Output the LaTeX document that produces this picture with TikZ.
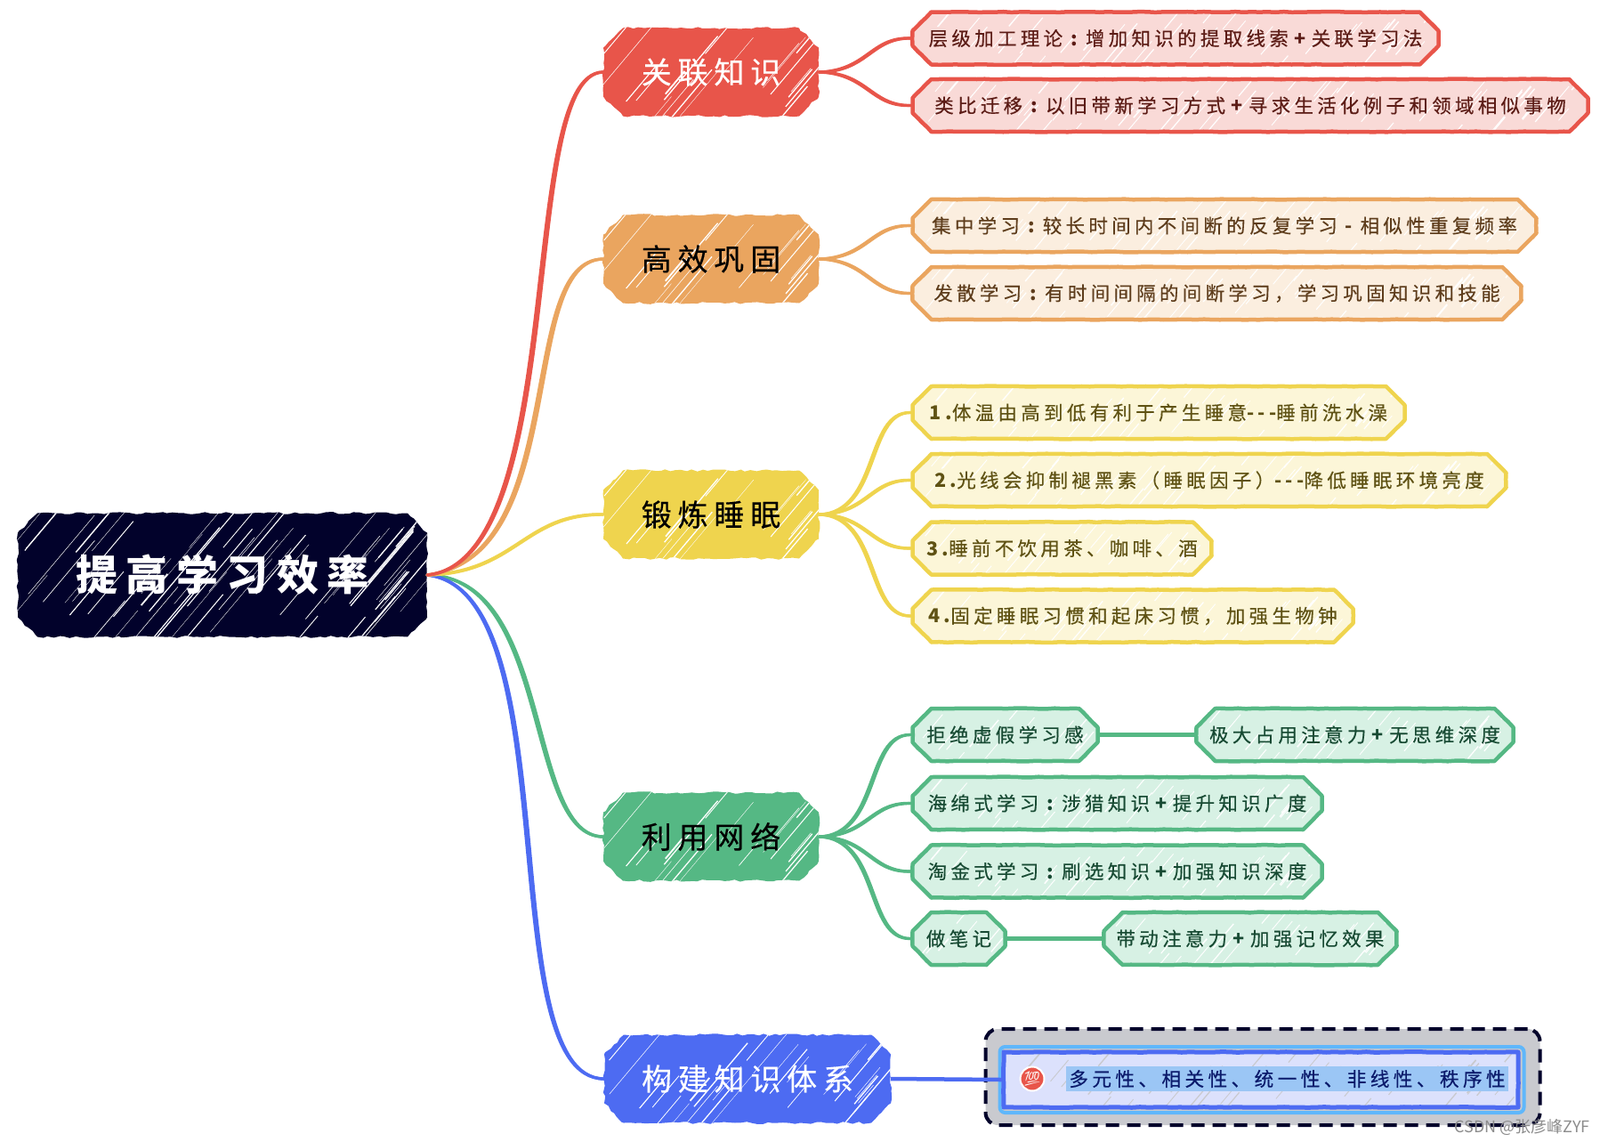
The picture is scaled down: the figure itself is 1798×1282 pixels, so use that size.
\documentclass[tikz,border=0pt]{standalone}
\usepackage{fontspec}
\setmainfont[LetterSpace=20,FakeBold=0.3,BoldFeatures={FakeBold=0}]{Noto Sans CJK SC}
\newfontfamily\plainfont{Noto Sans CJK SC}
\newfontfamily\emojifont{Noto Emoji}
\usetikzlibrary{calc,shapes.misc,decorations.pathmorphing}
\definecolor{cR}{HTML}{E8554A}\definecolor{lR}{HTML}{F9DAD7}\definecolor{tR}{HTML}{5C1C16}
\definecolor{cO}{HTML}{EAA55F}\definecolor{lO}{HTML}{FBEEDF}\definecolor{tO}{HTML}{5E3D1C}
\definecolor{cY}{HTML}{EFD44E}\definecolor{lY}{HTML}{FCF6D8}\definecolor{tY}{HTML}{5F5214}
\definecolor{cG}{HTML}{55B884}\definecolor{lG}{HTML}{D7F1E4}\definecolor{tG}{HTML}{174A33}
\definecolor{cB}{HTML}{4D6BF2}\definecolor{lB}{HTML}{DCE1FC}\definecolor{tB}{HTML}{0B1A6B}
\definecolor{navy}{HTML}{02022B}
\definecolor{framegrey}{HTML}{C9CACF}
\definecolor{haloblue}{HTML}{5FB7FB}
\definecolor{mark}{HTML}{9BC6F5}
\newcommand\cln{\makebox[25.8pt][c]{\bfseries :}}
\newcommand\pls{\makebox[25.8pt][c]{\bfseries +}}
\newcommand\mns{\makebox[25.8pt][c]{\bfseries -}}
\newcommand\hatchfill[6]{%
  \pgfmathsetseed{4217}%
  \pgfpointdiff{\pgfpointanchor{path picture bounding box}{west}}{\pgfpointanchor{path picture bounding box}{east}}%
  \pgfgetlastxy{\hW}{\hH}%
  \pgfmathtruncatemacro\hN{\hW*#2}%
  \foreach \i in {1,...,\hN}{%
    \pgfmathsetmacro\hA{rnd}%
    \pgfmathsetmacro\hB{rnd}%
    \pgfmathsetmacro\hL{#5+#6*rnd}%
    \pgfmathsetmacro\hT{#3+#4*rnd*rnd}%
    \pgfmathsetmacro\hDx{0.32*\hL}%
    \pgfmathsetmacro\hDy{0.38*\hL}%
    \coordinate (hP) at ($(path picture bounding box.south west)!\hA!(path picture bounding box.south east)$);
    \coordinate (hQ) at ($(hP)!\hB!(hP |- path picture bounding box.north)$);
    \draw[#1,line width=\hT pt] (hQ) ++(-\hDx pt,-\hDy pt) -- ++(2*\hDx pt,2*\hDy pt);
  }%
}
\newcommand\branch[7][3.2pt]{%
  \draw[line width=#1,line cap=round,#2] (#3) .. controls +(#5) and +(#6) .. (#4);
  \draw[line width=#1,line cap=round,#2] (#3) .. controls +($(#5)+(#7)$) and +($(#6)+(#7)$) .. (#4);
}
\tikzset{
  sketch/.style={shape=chamfered rectangle,chamfered rectangle xsep=11pt,chamfered rectangle ysep=11pt,inner sep=0pt,align=center},
  rough/.style={decorate,decoration={random steps,segment length=6pt,amplitude=1.3pt}},
  fineline/.style={line join=round,decorate,decoration={random steps,segment length=9pt,amplitude=0.35pt}},
  rootbox/.style={sketch,rough,fill=navy,text=white,minimum width=460pt,minimum height=139pt,
    font=\fontsize{47}{54}\selectfont\bfseries,
    path picture={\hatchfill{white}{0.14}{0.25}{1.9}{35}{90}}},
  topic/.style={sketch,rough,fill=c#1,minimum width=242pt,minimum height=99pt,
    font=\fontsize{34}{40}\selectfont,
    path picture={\hatchfill{white}{0.09}{0.3}{1.9}{25}{70}}},
  leaf/.style={sketch,fineline,draw=c#1,fill=l#1,text=t#1,line width=4.5pt,minimum height=59pt,
    font=\fontsize{21.5}{25}\selectfont,
    path picture={\hatchfill{white}{0.09}{0.8}{1}{15}{22}}},
  quietleaf/.style={sketch,fineline,draw=cB,fill=lB,line width=5pt,minimum height=62pt,
    path picture={\hatchfill{framegrey}{0.09}{0.8}{1}{15}{18}}},
  framebox/.style={rectangle,rounded corners=14pt,fill=framegrey,draw=navy,line width=4pt,dash pattern=on 15pt off 9pt},
  halobox/.style={rectangle,rounded corners=6pt,draw=haloblue,line width=4pt},
  badge/.style={circle,fill=cR,draw=white,line width=2pt,text=white,inner sep=0pt,minimum size=27pt,font=\emojifont\fontsize{16}{16}\selectfont},
  marked/.style={rectangle,fill=mark,text=tB,inner sep=0pt,minimum width=497pt,minimum height=28pt,font=\fontsize{21.7}{26}\selectfont},
  watermark/.style={text=black!45,font=\plainfont\fontsize{18}{22}\selectfont,inner sep=0pt},
}
\begin{document}
\begin{tikzpicture}[x=1pt,y=-1pt]
\useasboundingbox (0,0) rectangle (1798,1282);
\fill[white] (0,0) rectangle (1798,1282);
% root and topics
\node[rootbox] (root) at (250,646) {提高学习效率};
\node[topic=R,text=white] (t1) at (799,81) {关联知识};
\node[topic=O,text=black] (t2) at (799,291) {高效巩固};
\node[topic=Y,text=black] (t3) at (799,578) {锻炼睡眠};
\node[topic=G,text=black] (t4) at (799,940) {利用网络};
\node[topic=B,text=white,minimum width=322pt] (t5) at (840,1212) {构建知识体系};
% leaves
\begin{scope}[xshift=-2.5pt]
\node[leaf=R,minimum width=591pt] (a1) at (1323.5,43) {层级加工理论\cln 增加知识的提取线索\pls 关联学习法};
\node[leaf=R,minimum width=759pt] (a2) at (1407.5,118.5) {类比迁移\cln 以旧带新学习方式\pls 寻求生活化例子和领域相似事物};
\node[leaf=O,minimum width=701pt] (b1) at (1378.5,253.5) {集中学习\cln 较长时间内不间断的反复学习\mns 相似性重复频率};
\node[leaf=O,minimum width=684pt] (b2) at (1370,329.5) {发散学习\cln 有时间间隔的间断学习，学习巩固知识和技能};
\node[leaf=Y,minimum width=553pt] (c1) at (1304.5,463.5) {{\bfseries 1.}体温由高到低有利于产生睡意{\bfseries -{}-{}-}睡前洗水澡};
\node[leaf=Y,minimum width=667pt] (c2) at (1361.5,539.5) {{\bfseries 2.}光线会抑制褪黑素（睡眠因子）{\bfseries -{}-{}-}降低睡眠环境亮度};
\node[leaf=Y,minimum width=336pt] (c3) at (1196,616) {{\bfseries 3.}睡前不饮用茶、咖啡、酒};
\node[leaf=Y,minimum width=495pt] (c4) at (1275.5,692) {{\bfseries 4.}固定睡眠习惯和起床习惯，加强生物钟};
\node[leaf=G,minimum width=208pt] (d1) at (1132,825.5) {拒绝虚假学习感};
\node[leaf=G,minimum width=356pt] (d1x) at (1525,825.5) {极大占用注意力\pls 无思维深度};
\node[leaf=G,minimum width=460pt] (d2) at (1258,902.5) {海绵式学习\cln 涉猎知识\pls 提升知识广度};
\node[leaf=G,minimum width=460pt] (d3) at (1258,979) {淘金式学习\cln 刷选知识\pls 加强知识深度};
\node[leaf=G,minimum width=104pt] (d4) at (1080,1054.5) {做笔记};
\node[leaf=G,minimum width=329pt] (d4x) at (1407.5,1054.5) {带动注意力\pls 加强记忆效果};
\end{scope}
% last branch
\node[framebox,minimum width=623pt,minimum height=108pt] (frame) at (1419,1210) {};
\node[halobox,minimum width=589pt,minimum height=74pt] (halo) at (1418,1213) {};
\node[quietleaf,minimum width=578pt] (e1) at (1417,1213) {};
\node[badge] (icon) at (1160,1212) {💯};
\node[marked] (etext) at (1446.5,1212) {多元性、相关性、统一性、非线性、秩序性};
% connectors root to topics
\branch[3.4pt]{cG}{root.east}{t4.west}{140,3}{-90,0}{3,-1}
\branch[3.4pt]{cB}{root.east}{t5.west}{160,18}{-130,0}{3.5,-1}
\branch[3.4pt]{cY}{root.east}{t3.west}{100,-2}{-90,0}{1,-2}
\branch[3.4pt]{cO}{root.east}{t2.west}{160,-22}{-100,0}{3.5,2}
\branch[3.4pt]{cR}{root.east}{t1.west}{160,-17}{-100,0}{3.5,2}
% connectors topics to leaves
\branch{cR}{t1.east}{a1.west}{55,0}{-45,0}{0,-2}
\branch{cR}{t1.east}{a2.west}{55,0}{-45,0}{0,2}
\branch{cO}{t2.east}{b1.west}{55,0}{-45,0}{0,-2}
\branch{cO}{t2.east}{b2.west}{55,0}{-45,0}{0,2}
\branch{cY}{t3.east}{c1.west}{70,0}{-50,0}{-2,-2}
\branch{cY}{t3.east}{c2.west}{55,0}{-45,0}{0,-2}
\branch{cY}{t3.east}{c3.west}{55,0}{-45,0}{0,2}
\branch{cY}{t3.east}{c4.west}{70,0}{-50,0}{-2,2}
\branch{cG}{t4.east}{d1.west}{70,0}{-50,0}{-2,-2}
\branch{cG}{t4.east}{d2.west}{55,0}{-45,0}{0,-2}
\branch{cG}{t4.east}{d3.west}{55,0}{-45,0}{0,2}
\branch{cG}{t4.east}{d4.west}{70,0}{-50,0}{-2,2}
\draw[cG,line width=4.5pt] (d1.east) -- (d1x.west);
\draw[cG,line width=4.5pt] (d4.east) -- (d4x.west);
\draw[cB,line width=4.5pt] (t5.east) -- (e1.west);
\node[watermark,anchor=east] (wm) at (1787,1266) {CSDN @张彦峰ZYF};
\end{tikzpicture}
\end{document}
